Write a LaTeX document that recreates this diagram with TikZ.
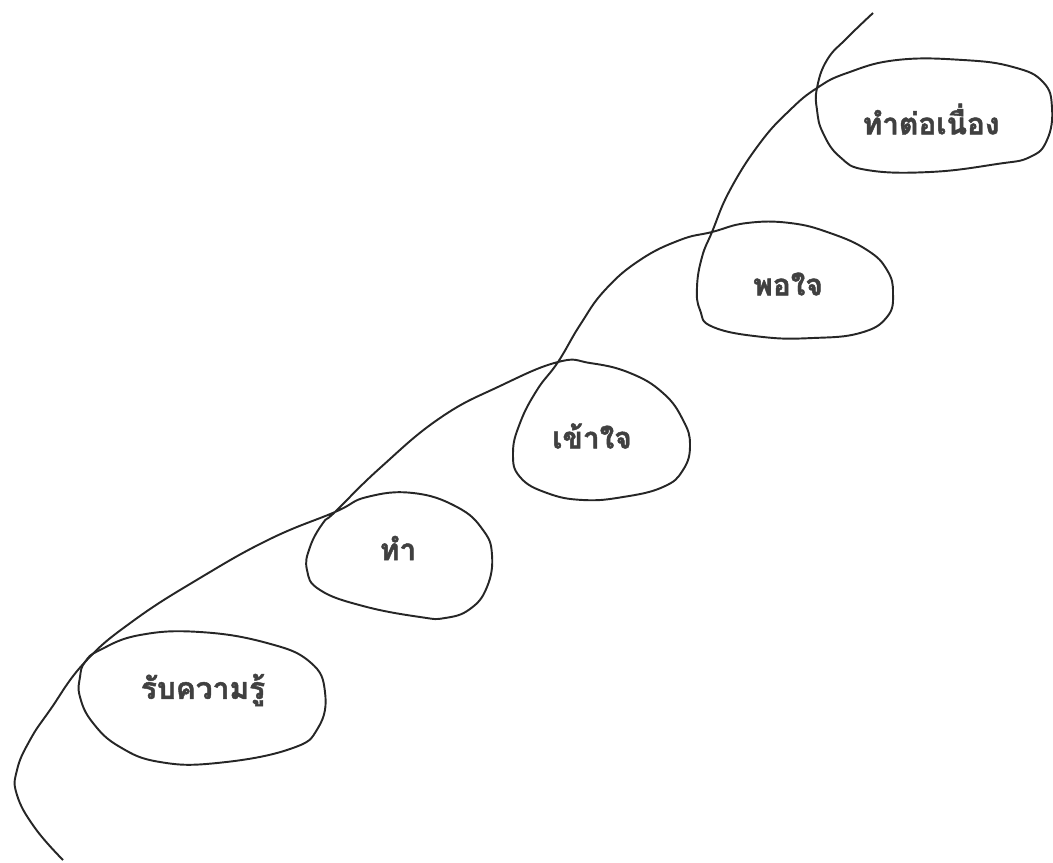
\documentclass[tikz,border=0pt]{standalone}
\usepackage{fontspec}
\newfontfamily\thaifont[Script=Thai,BoldFeatures={FakeBold=1.5}]{Loma}
\begin{document}
\begin{tikzpicture}[x=0.02cm,y=-0.02cm,
  stepname/.style={font=\thaifont\bfseries\fontsize{17}{20}\selectfont,text=black!75},
  pen/.style={line width=1.1pt,draw=black!85}]
\useasboundingbox (0,0) rectangle (1053,862);
\node[stepname] (S1) at (203,690) {รับความรู้};
\node[stepname] (S2) at (398,548) {ทำ};
\node[stepname] (S3) at (592,436) {เข้าใจ};
\node[stepname] (S4) at (788,284) {พอใจ};
\node[stepname] (S5) at (931,119) {ทำต่อเนื่อง};
% first loop
\draw[pen] plot[smooth cycle,tension=0.75] coordinates {(85,662) (100,650) (140,635) (200,632) (267,643) (310,662) (325,692) (318,728) (290,749) (217,763) (160,762) (120,747) (93,723) (80,697) (80,677)};
% the line that climbs through the other loops
\draw[pen] plot[smooth,tension=0.75] coordinates {(63,860) (35,828) (17,795) (17,770) (30,740) (50,710) (85,662)
 (133,621) (200,578) (270,539) (335,512)
 (367,497) (413,493) (457,507) (483,530) (492,555) (487,587) (470,609) (445,618) (420,617) (363,606) (320,590) (307,570) (310,547) (323,523) (335,512)
 (380,468) (440,418) (500,386) (558,362)
 (590,363) (630,373) (663,393) (683,420) (690,445) (683,470) (663,487) (623,497) (583,500) (547,493) (520,477) (513,453) (520,423) (537,390) (558,362)
 (580,325) (605,290) (640,260) (680,240) (712,232)
 (747,223) (790,223) (830,233) (867,250) (887,270) (893,293) (887,317) (860,333) (813,338) (763,337) (713,327) (700,310) (697,287) (702,257) (712,232)
 (730,190) (760,143) (790,110) (817,88)
 (847,73) (897,60) (963,60) (1013,67) (1043,82) (1052,108) (1047,140) (1030,157) (997,164) (930,172) (867,170) (840,157) (823,133) (817,110) (817,88)
 (827,60) (847,38) (873,13)};
\end{tikzpicture}
\end{document}
